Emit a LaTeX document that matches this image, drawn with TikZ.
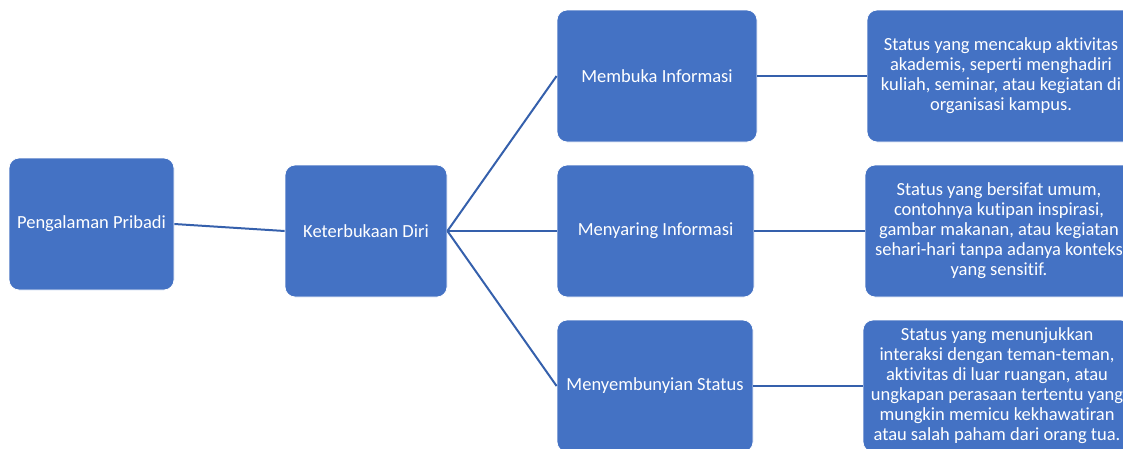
\documentclass[tikz,border=0pt]{standalone}
\usepackage{fontspec}
\setmainfont{Carlito}[Ligatures={NoCommon,NoRare,NoContextual}]
\definecolor{boxblue}{HTML}{4472C4}
\definecolor{linkblue}{HTML}{3560AC}
\begin{document}
\begin{tikzpicture}[x=1pt,y=-1pt,
  blk/.style={draw=white,line width=0.8pt,fill=boxblue,rounded corners=10pt,
    text=white,align=center,inner sep=0pt,
    font=\fontsize{18.5}{20}\selectfont},
  link/.style={draw=linkblue,line width=2pt}]
\useasboundingbox (0,0) rectangle (1123,448);
\clip (0,0) rectangle (1123,448);
\node[blk,minimum width=165,minimum height=132] (a) at (91.5,224) {Pengalaman Pribadi};
\node[blk,minimum width=162,minimum height=132] (b) at (366,231) {Keterbukaan Diri};
\node[blk,minimum width=200,minimum height=132] (m1) at (657,76) {Membuka Informasi};
\node[blk,minimum width=197,minimum height=132] (m2) at (655.5,231) {Menyaring Informasi};
\node[blk,minimum width=196,minimum height=132] (m3) at (655,386) {Menyembunyian Status};
\node[blk,minimum width=268,minimum height=132] (r1) at (1001,76) {Status yang mencakup aktivitas\\akademis, seperti menghadiri\\kuliah, seminar, atau kegiatan di\\organisasi kampus.};
\node[blk,minimum width=268,minimum height=132] (r2) at (999,231) {Status yang bersifat umum,\\contohnya kutipan inspirasi,\\gambar makanan, atau kegiatan\\sehari-hari tanpa adanya konteks\\yang sensitif.};
\node[blk,minimum width=268,minimum height=132] (r3) at (997,386) {Status yang menunjukkan\\interaksi dengan teman-teman,\\aktivitas di luar ruangan, atau\\ungkapan perasaan tertentu yang\\mungkin memicu kekhawatiran\\atau salah paham dari orang tua.};
\draw[link] (a.east) -- (b.west);
\draw[link] (b.east) -- (m1.west);
\draw[link] (b.east) -- (m2.west);
\draw[link] (b.east) -- (m3.west);
\draw[link] (m1.east) -- (r1.west);
\draw[link] (m2.east) -- (r2.west);
\draw[link] (m3.east) -- (r3.west);
\end{tikzpicture}
\end{document}
